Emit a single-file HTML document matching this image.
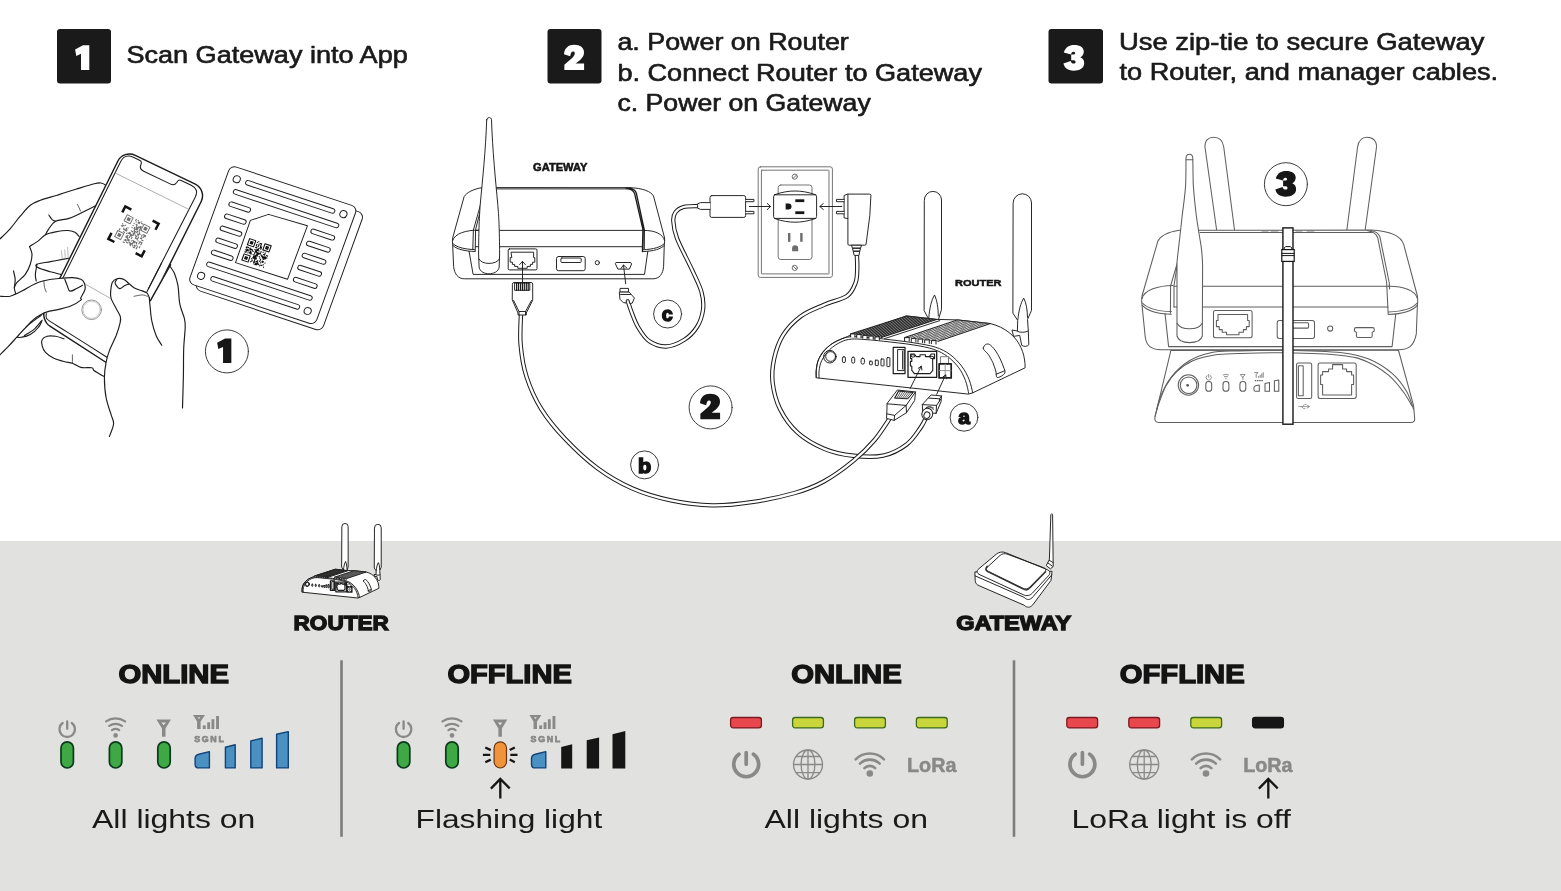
<!DOCTYPE html>
<html><head><meta charset="utf-8">
<style>
html,body{margin:0;padding:0;background:#fff;}
body{width:1561px;height:891px;overflow:hidden;font-family:"Liberation Sans",sans-serif;}
svg{display:block;position:absolute;left:0;top:0;}
text{font-family:"Liberation Sans",sans-serif;filter:grayscale(1);}
.h{font-size:24.3px;fill:#1a1a1a;stroke:#1a1a1a;stroke-width:.65;stroke-linejoin:round;}
.bk{font-weight:bold;fill:#141414;stroke:#141414;stroke-linejoin:miter;}
.bd{font-size:26.6px;fill:#1a1a1a;}
.ln{fill:none;stroke:#1c1c1c;stroke-width:.95;stroke-linecap:round;stroke-linejoin:round;}
.lw{fill:#fff;stroke:#1c1c1c;stroke-linecap:round;stroke-linejoin:round;}
.g{fill:none;stroke:#898989;}
#miniR *{vector-effect:non-scaling-stroke;}
</style></head><body>
<svg width="1561" height="891" viewBox="0 0 1561 891">
<rect x="0" y="0" width="1561" height="891" fill="#fff"/>
<rect x="0" y="541" width="1561" height="350" fill="#e1e1df"/>

<defs>
<path id="d1" d="M83,45.2 L89.3,45.2 L89.3,69.9 L81,69.9 L81,53.8 L76.3,55.9 L75.1,49.5 Z"/>
<path id="d2" d="M564.35,70.1 L564.35,64.8 L571,58.9 C573.5,56.7 574.8,55 574.8,53.2 C574.8,52 574,51.4 573,51.4 C571.5,51.4 570.6,53 570.2,56.2 L564,54.2 C564.5,48 568.5,44.8 574.3,44.8 C580.3,44.8 584,47.8 584,52.6 C584,57 581,59.5 575.7,63.6 L584.1,63.6 L584.1,70.1 Z"/>
<path id="d3" d="M1063.8,52.6 C1065.4,47.1 1069.3,44.9 1074,44.9 C1080.3,44.9 1083.8,47.5 1083.8,51.5 C1083.8,54.6 1082.2,56.2 1080.3,57.35 C1083,58.5 1084.2,60.5 1084.2,63.2 C1084.2,67.95 1079.5,70.7 1073.6,70.7 C1067.7,70.7 1064.6,67.95 1063.4,63.6 L1070.7,60.9 C1071.2,62.85 1072,63.6 1073.6,63.6 C1074.8,63.6 1075.6,62.85 1075.6,61.9 C1075.6,60.9 1074.8,60.25 1073.2,60.25 L1071.2,60.25 L1071.2,54.6 L1073.2,54.6 C1074.4,54.6 1075.2,54 1075.2,53.2 C1075.2,52.2 1074.4,51.7 1073.4,51.7 C1072,51.7 1071.5,52.6 1071,54.6 Z"/>
</defs>
<!-- HEADERS -->
<g id="headers">
<rect x="57" y="29" width="54" height="54.5" rx="3" fill="#1a1a1a"/>
<rect x="547.5" y="29" width="54" height="54.5" rx="3" fill="#1a1a1a"/>
<rect x="1048.5" y="29" width="54.5" height="54.5" rx="3" fill="#1a1a1a"/>
<text class="h" x="126.4" y="63" textLength="281.4" lengthAdjust="spacingAndGlyphs">Scan Gateway into App</text>
<text class="h" x="617.4" y="49.7" textLength="231.4" lengthAdjust="spacingAndGlyphs">a. Power on Router</text>
<text class="h" x="617.4" y="80.5" textLength="364.6" lengthAdjust="spacingAndGlyphs">b. Connect Router to Gateway</text>
<text class="h" x="617.4" y="111" textLength="253.4" lengthAdjust="spacingAndGlyphs">c. Power on Gateway</text>
<text class="h" x="1119" y="49.8" textLength="365.4" lengthAdjust="spacingAndGlyphs">Use zip-tie to secure Gateway</text>
<text class="h" x="1119.5" y="80.3" textLength="378.6" lengthAdjust="spacingAndGlyphs">to Router, and manager cables.</text>
<use href="#d1" fill="#fff"/><use href="#d2" fill="#fff"/><use href="#d3" fill="#fff"/>
</g>

<!--ILLUS1-->
<g id="illus1" class="ln" style="stroke-width:1.15">
<g transform="matrix(0.9611,0.3190,-0.3439,0.9500,230.64,165.19)" stroke-width=".95">
<rect class="lw" x="8.3" y="3.8" width="132" height="124" rx="6"/>
<rect class="lw" x="0" y="0" width="132" height="124" rx="6"/>
<circle cx="10.4" cy="11.3" r="3.5"/>
<circle cx="121.2" cy="10.8" r="3.5"/>
<circle cx="9.8" cy="113.2" r="3.5"/>
<circle cx="120.6" cy="113.0" r="3.5"/>
<rect x="19.7" y="8.9" width="92.6" height="4.6" rx="2.3"/>
<rect x="11.4" y="21.3" width="109.4" height="4.6" rx="2.3"/>
<rect x="11.0" y="97.7" width="109.5" height="4.6" rx="2.3"/>
<rect x="19.7" y="110.0" width="92.1" height="4.6" rx="2.3"/>
<rect x="11.4" y="34.2" width="22.2" height="4.6" rx="2.3"/>
<rect x="96.7" y="34.2" width="24.4" height="4.6" rx="2.3"/>
<rect x="11.4" y="46.9" width="22.2" height="4.6" rx="2.3"/>
<rect x="96.7" y="46.9" width="24.4" height="4.6" rx="2.3"/>
<rect x="11.4" y="59.6" width="22.2" height="4.6" rx="2.3"/>
<rect x="96.7" y="59.6" width="24.4" height="4.6" rx="2.3"/>
<rect x="11.4" y="72.3" width="22.2" height="4.6" rx="2.3"/>
<rect x="96.7" y="72.3" width="24.4" height="4.6" rx="2.3"/>
<rect x="11.4" y="85.0" width="22.2" height="4.6" rx="2.3"/>
<rect x="96.7" y="85.0" width="24.4" height="4.6" rx="2.3"/>
<path d="M36.9,45.7 L51.7,34.4 L91.7,33 L91.2,89.5 L37.3,90 Z"/>
<rect x="42.33" y="63.13" width="6.42" height="6.42" fill="none" stroke="#111" stroke-width="1.07"/><rect x="43.94" y="64.74" width="3.21" height="3.21" fill="#111" stroke="none"/>
<rect x="58.38" y="63.13" width="6.42" height="6.42" fill="none" stroke="#111" stroke-width="1.07"/><rect x="59.99" y="64.74" width="3.21" height="3.21" fill="#111" stroke="none"/>
<rect x="42.33" y="79.19" width="6.42" height="6.42" fill="none" stroke="#111" stroke-width="1.07"/><rect x="43.94" y="80.79" width="3.21" height="3.21" fill="#111" stroke="none"/>
<path d="M41.8,71.2h1.1v1.1h-1.1zM41.8,72.2h1.1v1.1h-1.1zM41.8,74.4h1.1v1.1h-1.1zM41.8,76.5h1.1v1.1h-1.1zM42.9,71.2h1.1v1.1h-1.1zM42.9,73.3h1.1v1.1h-1.1zM42.9,74.4h1.1v1.1h-1.1zM42.9,75.4h1.1v1.1h-1.1zM42.9,76.5h1.1v1.1h-1.1zM43.9,71.2h1.1v1.1h-1.1zM43.9,73.3h1.1v1.1h-1.1zM43.9,74.4h1.1v1.1h-1.1zM45.0,72.2h1.1v1.1h-1.1zM45.0,74.4h1.1v1.1h-1.1zM45.0,76.5h1.1v1.1h-1.1zM46.1,71.2h1.1v1.1h-1.1zM46.1,72.2h1.1v1.1h-1.1zM46.1,73.3h1.1v1.1h-1.1zM46.1,75.4h1.1v1.1h-1.1zM47.1,72.2h1.1v1.1h-1.1zM47.1,74.4h1.1v1.1h-1.1zM47.1,75.4h1.1v1.1h-1.1zM47.1,76.5h1.1v1.1h-1.1zM48.2,72.2h1.1v1.1h-1.1zM48.2,73.3h1.1v1.1h-1.1zM48.2,75.4h1.1v1.1h-1.1zM48.2,76.5h1.1v1.1h-1.1zM49.3,73.3h1.1v1.1h-1.1zM50.4,63.7h1.1v1.1h-1.1zM50.4,65.8h1.1v1.1h-1.1zM50.4,66.9h1.1v1.1h-1.1zM50.4,69.0h1.1v1.1h-1.1zM50.4,71.2h1.1v1.1h-1.1zM50.4,76.5h1.1v1.1h-1.1zM50.4,80.8h1.1v1.1h-1.1zM50.4,84.0h1.1v1.1h-1.1zM51.4,62.6h1.1v1.1h-1.1zM51.4,68.0h1.1v1.1h-1.1zM51.4,69.0h1.1v1.1h-1.1zM51.4,71.2h1.1v1.1h-1.1zM51.4,72.2h1.1v1.1h-1.1zM51.4,73.3h1.1v1.1h-1.1zM51.4,74.4h1.1v1.1h-1.1zM51.4,75.4h1.1v1.1h-1.1zM51.4,77.6h1.1v1.1h-1.1zM51.4,78.7h1.1v1.1h-1.1zM51.4,79.7h1.1v1.1h-1.1zM51.4,81.9h1.1v1.1h-1.1zM51.4,82.9h1.1v1.1h-1.1zM52.5,64.7h1.1v1.1h-1.1zM52.5,65.8h1.1v1.1h-1.1zM52.5,66.9h1.1v1.1h-1.1zM52.5,70.1h1.1v1.1h-1.1zM52.5,71.2h1.1v1.1h-1.1zM52.5,72.2h1.1v1.1h-1.1zM52.5,73.3h1.1v1.1h-1.1zM52.5,76.5h1.1v1.1h-1.1zM52.5,77.6h1.1v1.1h-1.1zM52.5,78.7h1.1v1.1h-1.1zM52.5,79.7h1.1v1.1h-1.1zM53.6,63.7h1.1v1.1h-1.1zM53.6,69.0h1.1v1.1h-1.1zM53.6,70.1h1.1v1.1h-1.1zM53.6,71.2h1.1v1.1h-1.1zM53.6,73.3h1.1v1.1h-1.1zM53.6,74.4h1.1v1.1h-1.1zM53.6,75.4h1.1v1.1h-1.1zM53.6,76.5h1.1v1.1h-1.1zM53.6,77.6h1.1v1.1h-1.1zM53.6,78.7h1.1v1.1h-1.1zM53.6,79.7h1.1v1.1h-1.1zM53.6,80.8h1.1v1.1h-1.1zM53.6,81.9h1.1v1.1h-1.1zM53.6,82.9h1.1v1.1h-1.1zM53.6,84.0h1.1v1.1h-1.1zM54.6,63.7h1.1v1.1h-1.1zM54.6,64.7h1.1v1.1h-1.1zM54.6,65.8h1.1v1.1h-1.1zM54.6,66.9h1.1v1.1h-1.1zM54.6,68.0h1.1v1.1h-1.1zM54.6,71.2h1.1v1.1h-1.1zM54.6,73.3h1.1v1.1h-1.1zM54.6,74.4h1.1v1.1h-1.1zM54.6,75.4h1.1v1.1h-1.1zM54.6,76.5h1.1v1.1h-1.1zM54.6,78.7h1.1v1.1h-1.1zM54.6,79.7h1.1v1.1h-1.1zM54.6,82.9h1.1v1.1h-1.1zM54.6,85.1h1.1v1.1h-1.1zM55.7,66.9h1.1v1.1h-1.1zM55.7,68.0h1.1v1.1h-1.1zM55.7,69.0h1.1v1.1h-1.1zM55.7,73.3h1.1v1.1h-1.1zM55.7,74.4h1.1v1.1h-1.1zM55.7,81.9h1.1v1.1h-1.1zM55.7,84.0h1.1v1.1h-1.1zM55.7,85.1h1.1v1.1h-1.1zM56.8,71.2h1.1v1.1h-1.1zM56.8,72.2h1.1v1.1h-1.1zM56.8,73.3h1.1v1.1h-1.1zM56.8,76.5h1.1v1.1h-1.1zM56.8,80.8h1.1v1.1h-1.1zM56.8,81.9h1.1v1.1h-1.1zM56.8,82.9h1.1v1.1h-1.1zM56.8,84.0h1.1v1.1h-1.1zM56.8,85.1h1.1v1.1h-1.1zM57.8,74.4h1.1v1.1h-1.1zM57.8,77.6h1.1v1.1h-1.1zM57.8,82.9h1.1v1.1h-1.1zM57.8,84.0h1.1v1.1h-1.1zM58.9,71.2h1.1v1.1h-1.1zM58.9,74.4h1.1v1.1h-1.1zM58.9,75.4h1.1v1.1h-1.1zM58.9,78.7h1.1v1.1h-1.1zM58.9,79.7h1.1v1.1h-1.1zM58.9,80.8h1.1v1.1h-1.1zM58.9,84.0h1.1v1.1h-1.1zM60.0,73.3h1.1v1.1h-1.1zM60.0,75.4h1.1v1.1h-1.1zM60.0,76.5h1.1v1.1h-1.1zM60.0,81.9h1.1v1.1h-1.1zM60.0,85.1h1.1v1.1h-1.1zM61.1,71.2h1.1v1.1h-1.1zM61.1,72.2h1.1v1.1h-1.1zM61.1,73.3h1.1v1.1h-1.1zM61.1,75.4h1.1v1.1h-1.1zM61.1,76.5h1.1v1.1h-1.1zM61.1,77.6h1.1v1.1h-1.1zM61.1,79.7h1.1v1.1h-1.1zM61.1,80.8h1.1v1.1h-1.1zM61.1,84.0h1.1v1.1h-1.1zM62.1,74.4h1.1v1.1h-1.1zM62.1,75.4h1.1v1.1h-1.1zM62.1,76.5h1.1v1.1h-1.1zM62.1,77.6h1.1v1.1h-1.1zM62.1,79.7h1.1v1.1h-1.1zM62.1,80.8h1.1v1.1h-1.1zM62.1,84.0h1.1v1.1h-1.1zM63.2,73.3h1.1v1.1h-1.1zM63.2,75.4h1.1v1.1h-1.1zM63.2,76.5h1.1v1.1h-1.1zM63.2,82.9h1.1v1.1h-1.1zM64.3,73.3h1.1v1.1h-1.1zM64.3,75.4h1.1v1.1h-1.1zM64.3,80.8h1.1v1.1h-1.1zM64.3,85.1h1.1v1.1h-1.1z" fill="#111" stroke="none"/>
</g>
<path d="M0.0,238.9 C1.7,237.2 6.7,232.6 10.1,228.8 C13.5,225.0 16.8,220.1 20.2,216.2 C23.6,212.3 26.9,207.9 30.3,205.3 C33.7,202.6 35.9,201.9 40.4,200.2 C44.9,198.5 51.3,197.0 57.2,195.2 C63.1,193.3 69.6,191.2 75.8,189.3 C81.9,187.4 90.1,184.7 94.3,183.7 C98.5,182.7 99.1,182.7 101.0,183.0 C102.9,183.3 104.6,184.2 105.7,185.4 C106.8,186.6 107.4,189.3 107.7,190.1"/>
<path d="M96.8,205.3 C94.4,206.4 87.1,210.1 82.5,212.3 C77.9,214.5 73.5,216.9 69.0,218.4 C64.5,219.9 58.9,219.5 55.6,221.2 C52.2,223.0 50.5,226.6 48.8,228.8 C47.1,231.1 46.0,233.7 45.5,234.7"/>
<path d="M29.5,246.5 C31.0,245.5 36.1,242.6 38.7,240.6 C41.4,238.6 42.6,236.2 45.5,234.7 C48.3,233.3 51.9,232.6 55.6,231.9 C59.2,231.2 64.1,230.4 67.3,230.5 C70.6,230.6 73.0,231.2 74.9,232.2 C76.9,233.2 78.4,235.7 79.1,236.4"/>
<path d="M48.8,215.0 C49.4,215.8 51.1,218.5 52.2,219.6 C53.3,220.6 55.0,221.0 55.6,221.2"/>
<path d="M77.4,204.4 C77.7,205.0 78.6,206.7 79.1,207.8 C79.6,208.9 80.2,210.6 80.5,211.1" stroke-width=".7"/>
<path d="M29.5,246.5 C29.9,247.8 31.8,251.1 32.0,254.1 C32.1,257.0 31.4,260.8 30.3,264.2 C29.2,267.5 27.5,271.2 25.3,274.3 C23.0,277.4 18.7,280.4 16.8,282.7 C15.0,284.9 14.5,285.8 14.3,287.7 C14.2,289.7 15.7,293.4 16.0,294.5"/>
<path d="M13.5,270.9 C13.7,272.3 15.0,276.5 15.2,279.3 C15.3,282.1 14.5,286.3 14.3,287.7"/>
<path d="M69.0,258.3 C68.2,258.4 67.1,258.6 64.0,259.1 C60.9,259.7 55.0,260.8 50.5,261.6 C46.0,262.5 39.1,263.2 37.0,264.2 C34.9,265.2 35.6,266.3 37.9,267.5 C40.1,268.8 46.6,270.6 50.5,271.8 C54.4,272.9 59.6,274.1 61.4,274.6"/>
<path d="M37.0,264.2 C36.8,265.9 35.5,271.5 35.4,274.3 C35.2,277.1 36.1,279.9 36.2,281.0"/>
<path d="M61.4,250.7 L62.3,259.1 M64.8,249.9 L65.3,259.1 M67.7,247.3 L68.2,258.3" stroke-width=".6" stroke="#888"/>
<path class="lw" d="M117.8,161.2 C121.0,154.8 128.9,152.1 135.3,155.3 L195.3,184.2 C201.7,187.4 204.4,195.1 201.2,201.5 L122.9,357.9 C119.7,364.3 112.2,366.3 106.2,362.5 L50.3,326.4 C44.3,322.6 42.0,314.2 45.2,307.8 Z" style="stroke-width:1.45"/>
<path d="M58.2,287.6 L120.6,161.7 Q124.8,153.2 133.4,157.3 L140.0,160.5 C142.5,161.7 141.3,163.6 140.6,165.5 C139.6,168.3 140.7,169.8 143.7,171.2 L170.1,183.9 C173.0,185.4 174.8,185.3 176.5,182.8 C177.5,181.1 178.2,179.0 180.7,180.2 L191.2,185.3 Q199.3,189.2 195.2,197.2 L148.3,288.9" style="stroke-width:1.05"/>
<path d="M115.8,173.3 L189.5,209.7 M85.5,284.2 L110,298.2" stroke="#9a9a9a" stroke-width=".8"/>
<path d="M46.3,313.6 C46.3,314.3 45.7,316.5 46.3,317.8 C46.9,319.0 46.2,318.8 49.7,321.1 C53.2,323.5 57.8,326.1 67.3,332.1 C76.9,338.1 100.3,353.1 106.9,357.3" stroke-width="1.05"/>
<circle cx="91.6" cy="309.8" r="9.8" stroke="#8a8a8a" stroke-width=".9"/><circle cx="91.6" cy="309.8" r="8.6" stroke="#b0b0b0" stroke-width=".7"/>
<g transform="translate(133.5,231.35) rotate(27.6)">
<path d="M-18.75,-11.6 V-18.3 H-12 M12,-18.3 H18.75 V-11.6 M18.75,11.6 V18.3 H12 M-12,18.3 H-18.75 V11.6" stroke="#111" stroke-width="2.5" stroke-linecap="butt" stroke-linejoin="miter"/>
<rect x="-13.24" y="-11.84" width="6.78" height="6.78" fill="none" stroke="#6e6e6e" stroke-width="0.96"/><rect x="-11.54" y="-10.14" width="3.39" height="3.39" fill="#6e6e6e" stroke="none"/>
<rect x="6.01" y="-11.20" width="6.78" height="6.78" fill="none" stroke="#6e6e6e" stroke-width="0.96"/><rect x="7.70" y="-9.50" width="3.39" height="3.39" fill="#6e6e6e" stroke="none"/>
<rect x="-14.29" y="6.51" width="6.78" height="6.78" fill="none" stroke="#6e6e6e" stroke-width="0.96"/><rect x="-12.60" y="8.20" width="3.39" height="3.39" fill="#6e6e6e" stroke="none"/>
<path d="M-13.80,-2.23h1.13v1.13h-1.13zM-13.80,0.03h1.13v1.13h-1.13zM-13.80,3.42h1.13v1.13h-1.13zM-13.80,4.55h1.13v1.13h-1.13zM-12.67,-1.10h1.13v1.13h-1.13zM-12.67,0.03h1.13v1.13h-1.13zM-11.54,-1.10h1.13v1.13h-1.13zM-10.41,-2.23h1.13v1.13h-1.13zM-10.41,1.16h1.13v1.13h-1.13zM-10.41,2.29h1.13v1.13h-1.13zM-9.28,2.29h1.13v1.13h-1.13zM-9.28,4.55h1.13v1.13h-1.13zM-8.15,0.03h1.13v1.13h-1.13zM-8.15,1.16h1.13v1.13h-1.13zM-8.15,2.29h1.13v1.13h-1.13zM-8.15,4.55h1.13v1.13h-1.13zM-7.02,-1.10h1.13v1.13h-1.13zM-7.02,1.16h1.13v1.13h-1.13zM-7.02,2.29h1.13v1.13h-1.13zM-5.89,4.55h1.13v1.13h-1.13zM-4.76,3.42h1.13v1.13h-1.13zM-4.76,6.81h1.13v1.13h-1.13zM-4.76,7.94h1.13v1.13h-1.13zM-4.76,11.33h1.13v1.13h-1.13zM-4.76,13.59h1.13v1.13h-1.13zM-3.63,-12.40h1.13v1.13h-1.13zM-3.63,-11.27h1.13v1.13h-1.13zM-3.63,-7.88h1.13v1.13h-1.13zM-3.63,-5.62h1.13v1.13h-1.13zM-3.63,-3.36h1.13v1.13h-1.13zM-3.63,2.29h1.13v1.13h-1.13zM-3.63,3.42h1.13v1.13h-1.13zM-3.63,5.68h1.13v1.13h-1.13zM-3.63,6.81h1.13v1.13h-1.13zM-3.63,7.94h1.13v1.13h-1.13zM-3.63,10.20h1.13v1.13h-1.13zM-3.63,11.33h1.13v1.13h-1.13zM-3.63,13.59h1.13v1.13h-1.13zM-2.50,-10.14h1.13v1.13h-1.13zM-2.50,0.03h1.13v1.13h-1.13zM-2.50,2.29h1.13v1.13h-1.13zM-2.50,3.42h1.13v1.13h-1.13zM-2.50,7.94h1.13v1.13h-1.13zM-2.50,9.07h1.13v1.13h-1.13zM-2.50,11.33h1.13v1.13h-1.13zM-1.37,-12.40h1.13v1.13h-1.13zM-1.37,-7.88h1.13v1.13h-1.13zM-1.37,-4.49h1.13v1.13h-1.13zM-1.37,-3.36h1.13v1.13h-1.13zM-1.37,0.03h1.13v1.13h-1.13zM-1.37,3.42h1.13v1.13h-1.13zM-1.37,4.55h1.13v1.13h-1.13zM-1.37,5.68h1.13v1.13h-1.13zM-1.37,6.81h1.13v1.13h-1.13zM-1.37,9.07h1.13v1.13h-1.13zM-1.37,10.20h1.13v1.13h-1.13zM-1.37,12.46h1.13v1.13h-1.13zM-0.24,-11.27h1.13v1.13h-1.13zM-0.24,-10.14h1.13v1.13h-1.13zM-0.24,-7.88h1.13v1.13h-1.13zM-0.24,-6.75h1.13v1.13h-1.13zM-0.24,-5.62h1.13v1.13h-1.13zM-0.24,-3.36h1.13v1.13h-1.13zM-0.24,-2.23h1.13v1.13h-1.13zM-0.24,-1.10h1.13v1.13h-1.13zM-0.24,1.16h1.13v1.13h-1.13zM-0.24,3.42h1.13v1.13h-1.13zM-0.24,4.55h1.13v1.13h-1.13zM-0.24,9.07h1.13v1.13h-1.13zM-0.24,10.20h1.13v1.13h-1.13zM-0.24,12.46h1.13v1.13h-1.13zM0.89,-11.27h1.13v1.13h-1.13zM0.89,-10.14h1.13v1.13h-1.13zM0.89,-5.62h1.13v1.13h-1.13zM0.89,-4.49h1.13v1.13h-1.13zM0.89,-3.36h1.13v1.13h-1.13zM0.89,-1.10h1.13v1.13h-1.13zM0.89,0.03h1.13v1.13h-1.13zM0.89,1.16h1.13v1.13h-1.13zM0.89,2.29h1.13v1.13h-1.13zM0.89,3.42h1.13v1.13h-1.13zM0.89,5.68h1.13v1.13h-1.13zM0.89,6.81h1.13v1.13h-1.13zM0.89,11.33h1.13v1.13h-1.13zM2.02,-12.40h1.13v1.13h-1.13zM2.02,-6.75h1.13v1.13h-1.13zM2.02,-5.62h1.13v1.13h-1.13zM2.02,-4.49h1.13v1.13h-1.13zM2.02,-3.36h1.13v1.13h-1.13zM2.02,-1.10h1.13v1.13h-1.13zM2.02,1.16h1.13v1.13h-1.13zM2.02,9.07h1.13v1.13h-1.13zM2.02,11.33h1.13v1.13h-1.13zM2.02,12.46h1.13v1.13h-1.13zM3.15,-11.27h1.13v1.13h-1.13zM3.15,-7.88h1.13v1.13h-1.13zM3.15,-6.75h1.13v1.13h-1.13zM3.15,-2.23h1.13v1.13h-1.13zM3.15,-1.10h1.13v1.13h-1.13zM3.15,2.29h1.13v1.13h-1.13zM3.15,7.94h1.13v1.13h-1.13zM3.15,11.33h1.13v1.13h-1.13zM3.15,12.46h1.13v1.13h-1.13zM3.15,13.59h1.13v1.13h-1.13zM4.28,-11.27h1.13v1.13h-1.13zM4.28,-7.88h1.13v1.13h-1.13zM4.28,-6.75h1.13v1.13h-1.13zM4.28,-5.62h1.13v1.13h-1.13zM4.28,-4.49h1.13v1.13h-1.13zM4.28,-3.36h1.13v1.13h-1.13zM4.28,0.03h1.13v1.13h-1.13zM4.28,2.29h1.13v1.13h-1.13zM4.28,3.42h1.13v1.13h-1.13zM4.28,4.55h1.13v1.13h-1.13zM4.28,7.94h1.13v1.13h-1.13zM4.28,9.07h1.13v1.13h-1.13zM4.28,10.20h1.13v1.13h-1.13zM4.28,11.33h1.13v1.13h-1.13zM5.41,-2.23h1.13v1.13h-1.13zM5.41,-1.10h1.13v1.13h-1.13zM5.41,0.03h1.13v1.13h-1.13zM5.41,1.16h1.13v1.13h-1.13zM5.41,4.55h1.13v1.13h-1.13zM5.41,7.94h1.13v1.13h-1.13zM5.41,9.07h1.13v1.13h-1.13zM5.41,12.46h1.13v1.13h-1.13zM6.54,-1.10h1.13v1.13h-1.13zM6.54,2.29h1.13v1.13h-1.13zM6.54,3.42h1.13v1.13h-1.13zM6.54,4.55h1.13v1.13h-1.13zM6.54,7.94h1.13v1.13h-1.13zM6.54,11.33h1.13v1.13h-1.13zM6.54,13.59h1.13v1.13h-1.13zM7.67,5.68h1.13v1.13h-1.13zM7.67,7.94h1.13v1.13h-1.13zM7.67,9.07h1.13v1.13h-1.13zM7.67,11.33h1.13v1.13h-1.13zM7.67,12.46h1.13v1.13h-1.13zM7.67,13.59h1.13v1.13h-1.13zM8.80,-1.10h1.13v1.13h-1.13zM8.80,0.03h1.13v1.13h-1.13zM8.80,2.29h1.13v1.13h-1.13zM8.80,10.20h1.13v1.13h-1.13zM9.93,-2.23h1.13v1.13h-1.13zM9.93,1.16h1.13v1.13h-1.13zM9.93,2.29h1.13v1.13h-1.13zM9.93,5.68h1.13v1.13h-1.13zM9.93,6.81h1.13v1.13h-1.13zM9.93,7.94h1.13v1.13h-1.13zM9.93,11.33h1.13v1.13h-1.13zM9.93,12.46h1.13v1.13h-1.13zM9.93,13.59h1.13v1.13h-1.13zM11.06,-2.23h1.13v1.13h-1.13zM11.06,-1.10h1.13v1.13h-1.13zM11.06,0.03h1.13v1.13h-1.13zM11.06,3.42h1.13v1.13h-1.13zM11.06,5.68h1.13v1.13h-1.13zM12.19,-2.23h1.13v1.13h-1.13zM12.19,-1.10h1.13v1.13h-1.13zM12.19,3.42h1.13v1.13h-1.13zM12.19,5.68h1.13v1.13h-1.13zM12.19,6.81h1.13v1.13h-1.13zM12.19,7.94h1.13v1.13h-1.13zM12.19,10.20h1.13v1.13h-1.13zM12.19,11.33h1.13v1.13h-1.13z" fill="#6e6e6e" stroke="none"/>
</g>
<path class="lw" d="M64.0,338.8 C62.6,338.4 58.4,336.7 55.6,336.3 C52.7,335.9 49.4,335.7 47.1,336.3 C44.9,336.9 42.9,338.1 42.1,339.7 C41.2,341.2 41.5,343.5 42.1,345.6 C42.6,347.7 43.5,350.2 45.5,352.3 C47.4,354.4 50.8,356.6 53.9,358.2 C57.0,359.7 60.9,360.7 64.0,361.5 C67.1,362.4 69.6,362.3 72.4,363.2 C75.2,364.2 77.6,366.7 80.8,367.4 C84.0,368.2 89.5,367.2 91.8,367.8 C94.0,368.3 92.3,369.4 94.3,370.8 C96.2,372.2 102.0,375.3 103.5,376.2"/>
<path d="M72.4,354.8 C72.4,356.2 72.4,361.8 72.4,363.2" stroke-width=".7"/>
<path class="lw" d="M41.2,315.3 C38.9,317.1 30.9,322.7 26.9,326.2 C23.0,329.7 18.5,334.5 17.7,336.3 C16.8,338.1 19.8,337.4 21.9,337.1 C24.0,336.9 27.5,336.3 30.3,334.6 C33.1,332.9 36.8,329.4 38.7,327.0 C40.7,324.7 41.5,321.4 42.1,320.3"/>
<path d="M24.4,335.5 C26.0,334.5 30.9,331.9 33.7,329.6 C36.5,327.2 40.0,322.5 41.2,321.1"/>
<path class="lw" d="M0.0,296.2 C1.7,296.2 6.5,297.0 10.1,296.2 C13.7,295.3 18.0,293.1 21.9,291.1 C25.8,289.1 30.0,286.1 33.7,284.4 C37.3,282.6 39.6,281.7 43.8,280.7 C48.0,279.7 54.2,279.0 58.9,278.5 C63.7,278.0 68.7,277.5 72.4,277.6 C76.0,277.8 78.8,278.5 80.8,279.3 C82.8,280.2 83.5,281.0 84.2,282.7 C84.9,284.4 85.6,286.9 85.0,289.4 C84.5,292.0 81.5,296.1 80.8,297.8 C80.1,299.6 82.5,298.7 80.8,300.1 C79.1,301.5 74.4,304.5 70.7,306.0 C67.1,307.5 62.9,308.4 58.9,309.4 C55.0,310.3 50.1,311.0 47.1,311.9 C44.2,312.7 43.5,313.1 41.2,314.4 C39.0,315.7 36.3,317.2 33.7,319.5 C31.0,321.7 28.1,324.9 25.3,327.9 C22.4,330.8 19.6,334.1 16.8,337.1 C14.0,340.2 11.2,343.5 8.4,346.4 C5.6,349.3 1.4,353.4 0.0,354.8"/>
<path d="M64.8,279.3 C65.2,280.4 66.5,283.8 67.3,285.7 C68.2,287.7 68.3,290.6 69.9,291.1 C71.4,291.6 74.5,289.6 76.6,288.6 C78.7,287.6 81.5,285.8 82.5,285.2"/>
<path d="M43.8,281.0 C43.9,282.1 44.2,285.9 44.6,287.7 C45.0,289.6 46.0,291.3 46.3,292.0" stroke-width=".7"/>
<path d="M109.4,436.5 C109.8,435.3 111.3,432.0 112.0,429.7 C112.7,427.5 113.8,425.5 113.6,423.0 C113.5,420.5 112.4,418.8 111.1,414.6 C109.8,410.4 107.2,403.9 106.1,397.7 C104.9,391.6 104.4,383.4 104.4,377.5 C104.4,371.6 105.2,366.9 106.1,362.4 C106.9,357.9 107.7,355.1 109.4,350.6 C111.1,346.1 114.4,339.9 116.2,335.5 C117.9,331.0 119.2,326.8 119.9,323.7 C120.6,320.6 121.0,319.5 120.4,316.9 C119.8,314.4 117.7,311.6 116.2,308.5 C114.6,305.4 112.0,301.3 111.1,298.4 C110.2,295.5 110.4,294.0 110.7,291.3 C110.9,288.6 111.4,284.4 112.4,282.3 C113.5,280.2 115.1,279.3 116.9,278.7 C118.7,278.2 121.3,278.3 123.2,279.1 C125.2,279.8 126.8,281.8 128.6,283.2 C130.4,284.7 131.7,286.4 134.0,287.7 C136.2,289.0 139.9,290.0 142.1,290.9 C144.3,291.8 145.9,292.0 147.1,293.1 C148.3,294.2 148.9,296.8 149.3,297.6 L169.9,266.2 L169.9,266.2 C170.7,267.4 173.0,270.1 174.4,273.3 C175.7,276.6 177.1,280.8 178.0,285.9 C178.9,291.0 178.7,298.5 179.8,303.9 C180.8,309.3 183.4,314.3 184.3,318.2 C185.2,322.1 185.3,322.1 185.2,327.2 C185.1,332.3 184.0,340.7 183.7,348.8 C183.4,356.8 183.6,365.8 183.4,375.7 C183.2,385.6 182.6,402.6 182.5,408.0 Z" fill="#fff" stroke="none"/>
<path d="M170.6,264.6 L150.4,300.6" style="stroke-width:1.45"/>
<path d="M161.6,263 L146.9,291.8" style="stroke-width:1.05"/>
<path d="M109.4,436.5 C109.8,435.3 111.3,432.0 112.0,429.7 C112.7,427.5 113.8,425.5 113.6,423.0 C113.5,420.5 112.4,418.8 111.1,414.6 C109.8,410.4 107.2,403.9 106.1,397.7 C104.9,391.6 104.4,383.4 104.4,377.5 C104.4,371.6 105.2,366.9 106.1,362.4 C106.9,357.9 107.7,355.1 109.4,350.6 C111.1,346.1 114.4,339.9 116.2,335.5 C117.9,331.0 119.2,326.8 119.9,323.7 C120.6,320.6 121.0,319.5 120.4,316.9 C119.8,314.4 117.7,311.6 116.2,308.5 C114.6,305.4 112.0,301.3 111.1,298.4 C110.2,295.5 110.4,294.0 110.7,291.3 C110.9,288.6 111.4,284.4 112.4,282.3 C113.5,280.2 115.1,279.3 116.9,278.7 C118.7,278.2 121.3,278.3 123.2,279.1 C125.2,279.8 126.8,281.8 128.6,283.2 C130.4,284.7 131.7,286.4 134.0,287.7 C136.2,289.0 139.9,290.0 142.1,290.9 C144.3,291.8 145.9,292.0 147.1,293.1 C148.3,294.2 148.9,296.8 149.3,297.6"/>
<path d="M169.9,266.2 C170.7,267.4 173.0,270.1 174.4,273.3 C175.7,276.6 177.1,280.8 178.0,285.9 C178.9,291.0 178.7,298.5 179.8,303.9 C180.8,309.3 183.4,314.3 184.3,318.2 C185.2,322.1 185.3,322.1 185.2,327.2 C185.1,332.3 184.0,340.7 183.7,348.8 C183.4,356.8 183.6,365.8 183.4,375.7 C183.2,385.6 182.6,402.6 182.5,408.0"/>
<path d="M116.9,279.6 C116.6,280.2 114.7,281.7 115.1,283.2 C115.6,284.7 118.1,288.2 119.6,288.6 C121.1,289.1 122.6,286.7 124.1,285.9 C125.6,285.2 127.9,284.4 128.6,284.1"/>
<path d="M134.0,296.3 C135.3,296.1 139.8,294.9 142.1,294.9 C144.3,294.9 146.6,296.1 147.5,296.3" stroke-width=".7"/>
<path d="M149.3,297.6 C149.4,299.2 149.7,303.4 150.2,307.5 C150.6,311.5 150.9,317.0 152.0,321.8 C153.0,326.6 154.8,332.3 156.4,336.2 C158.1,340.1 160.9,343.7 161.8,345.2"/>
<circle cx="226.9" cy="351.4" r="21.5" fill="#fff" stroke="#333" stroke-width=".95"/>
<use href="#d1" transform="translate(142.05,293.2)" fill="#161616" stroke="none"/>
</g>
<!--ENDILLUS1-->
<!--ILLUS2-->
<g id="illus2" class="ln">
<path d="M698.5,206.0 C696.0,206.2 687.3,206.0 683.5,207.0 C679.7,208.0 677.2,209.9 675.5,212.2 C673.8,214.5 673.0,216.7 673.3,221.0 C673.5,225.3 673.9,230.1 677.0,238.3 C680.1,246.5 688.1,261.2 692.2,270.2 C696.3,279.1 699.7,285.4 701.5,292.0 C703.3,298.6 703.8,304.2 703.0,310.0 C702.2,315.8 700.2,322.0 697.0,327.0 C693.8,332.0 689.2,336.8 684.0,340.0 C678.8,343.2 671.8,346.3 666.0,346.5 C660.2,346.7 653.7,344.2 649.0,341.0 C644.3,337.8 640.9,331.8 638.0,327.0 C635.1,322.2 633.2,316.3 631.5,312.0 C629.8,307.7 628.4,302.8 627.8,301.0" fill="none" stroke="#1a1a1a" stroke-width="4.30" stroke-linecap="butt"/>
<path d="M698.5,206.0 C696.0,206.2 687.3,206.0 683.5,207.0 C679.7,208.0 677.2,209.9 675.5,212.2 C673.8,214.5 673.0,216.7 673.3,221.0 C673.5,225.3 673.9,230.1 677.0,238.3 C680.1,246.5 688.1,261.2 692.2,270.2 C696.3,279.1 699.7,285.4 701.5,292.0 C703.3,298.6 703.8,304.2 703.0,310.0 C702.2,315.8 700.2,322.0 697.0,327.0 C693.8,332.0 689.2,336.8 684.0,340.0 C678.8,343.2 671.8,346.3 666.0,346.5 C660.2,346.7 653.7,344.2 649.0,341.0 C644.3,337.8 640.9,331.8 638.0,327.0 C635.1,322.2 633.2,316.3 631.5,312.0 C629.8,307.7 628.4,302.8 627.8,301.0" fill="none" stroke="#fff" stroke-width="2.30" stroke-linecap="butt"/>

<path d="M856.9,255.5 C857.0,257.9 857.4,265.4 857.2,270.0 C857.0,274.6 857.2,278.7 855.5,283.0 C853.8,287.3 852.2,292.4 847.0,296.0 C841.8,299.6 831.9,301.4 824.2,304.8 C816.5,308.2 807.5,311.3 800.6,316.4 C793.7,321.5 787.3,328.3 782.9,335.4 C778.5,342.5 775.8,351.0 774.1,358.9 C772.4,366.8 771.6,374.1 772.6,382.5 C773.6,390.9 775.8,400.6 780.0,409.0 C784.2,417.4 790.2,426.0 797.6,432.6 C805.0,439.2 814.9,444.9 824.2,448.8 C833.5,452.7 843.8,454.7 853.6,455.8 C863.4,456.9 874.2,457.5 883.1,455.6 C892.0,453.7 900.5,449.1 906.7,444.4 C913.0,439.7 917.3,432.2 920.6,427.6 C923.9,423.0 925.6,418.4 926.6,416.5" fill="none" stroke="#1a1a1a" stroke-width="4.40" stroke-linecap="butt"/>
<path d="M856.9,255.5 C857.0,257.9 857.4,265.4 857.2,270.0 C857.0,274.6 857.2,278.7 855.5,283.0 C853.8,287.3 852.2,292.4 847.0,296.0 C841.8,299.6 831.9,301.4 824.2,304.8 C816.5,308.2 807.5,311.3 800.6,316.4 C793.7,321.5 787.3,328.3 782.9,335.4 C778.5,342.5 775.8,351.0 774.1,358.9 C772.4,366.8 771.6,374.1 772.6,382.5 C773.6,390.9 775.8,400.6 780.0,409.0 C784.2,417.4 790.2,426.0 797.6,432.6 C805.0,439.2 814.9,444.9 824.2,448.8 C833.5,452.7 843.8,454.7 853.6,455.8 C863.4,456.9 874.2,457.5 883.1,455.6 C892.0,453.7 900.5,449.1 906.7,444.4 C913.0,439.7 917.3,432.2 920.6,427.6 C923.9,423.0 925.6,418.4 926.6,416.5" fill="none" stroke="#fff" stroke-width="2.40" stroke-linecap="butt"/>

<path d="M521.0,313.5 C520.9,318.6 519.7,333.7 520.6,344.2 C521.5,354.7 523.0,365.8 526.5,376.6 C530.0,387.4 534.9,398.7 541.3,409.0 C547.7,419.3 555.5,428.7 564.8,438.5 C574.1,448.3 585.9,459.6 597.2,468.0 C608.5,476.4 620.3,483.2 632.6,488.6 C644.9,494.0 657.6,497.6 670.9,500.4 C684.2,503.2 698.5,505.1 712.2,505.4 C726.0,505.6 739.6,504.0 753.4,501.9 C767.1,499.8 782.9,496.4 794.7,493.0 C806.5,489.6 814.4,486.6 824.2,481.2 C834.0,475.8 845.2,467.5 853.6,460.6 C862.0,453.7 868.5,447.2 874.6,440.0 C880.7,432.8 887.7,421.3 890.3,417.6" fill="none" stroke="#1a1a1a" stroke-width="4.40" stroke-linecap="butt"/>
<path d="M521.0,313.5 C520.9,318.6 519.7,333.7 520.6,344.2 C521.5,354.7 523.0,365.8 526.5,376.6 C530.0,387.4 534.9,398.7 541.3,409.0 C547.7,419.3 555.5,428.7 564.8,438.5 C574.1,448.3 585.9,459.6 597.2,468.0 C608.5,476.4 620.3,483.2 632.6,488.6 C644.9,494.0 657.6,497.6 670.9,500.4 C684.2,503.2 698.5,505.1 712.2,505.4 C726.0,505.6 739.6,504.0 753.4,501.9 C767.1,499.8 782.9,496.4 794.7,493.0 C806.5,489.6 814.4,486.6 824.2,481.2 C834.0,475.8 845.2,467.5 853.6,460.6 C862.0,453.7 868.5,447.2 874.6,440.0 C880.7,432.8 887.7,421.3 890.3,417.6" fill="none" stroke="#fff" stroke-width="2.40" stroke-linecap="butt"/>

<path class="lw" d="M482,187.65 C473.4,189 466.6,192.5 464.1,196.7 L452.65,238 C452.3,240 452.4,242.5 452.65,244.2 L453.6,266.4 C454.4,274 458,278.8 464.5,278.8 L652.8,278.8 C659.5,278.8 663,274 663.6,266.4 L664.3,244.2 C664.7,242 664.8,240 664.6,238 L653.5,196 C651,191.5 643,188 629.1,187.65 Z"/>
<path d="M482,188.9 H629.5"/>
<path d="M481.4,201.6 L473.4,230 L472.8,249.4 M480.3,211 L475.6,229.4 L475.2,251.2"/>
<path d="M626,188.2 C631,189 633.5,190.5 634.6,193.5 L642.9,229.4 L642.4,251.6 M629,187.9 C633,188.6 635.3,190 636.3,193 L644.3,230 L644.1,248.8" stroke-width="1.3"/>
<path d="M475.9,230.4 H642.9 M475.4,246.7 H642.6"/>
<path d="M478.95,230.1 C466,230 454.5,233.5 452.7,240.5 M452.9,243.6 C456,247 464,249.3 474.6,249.6 M452.9,245.4 C456,249 464,251.2 475,251.5"/>
<path d="M644.1,230.4 C655,230.4 663,234 664.5,240.5 M664.3,243.6 C661,247 653.8,249.3 642.9,249.8 M664.3,245.4 C661,249 653.8,251.3 642.4,251.6"/>
<path d="M469.1,251.4 L473.1,274.4 H644.5 L647.8,251.4"/>
<rect x="508.2" y="248.9" width="28.8" height="21" rx="1.2"/>
<path d="M511.4,252.2 H533.6 V257.6 H534.8 V262.2 H532.6 V264.4 H530.4 V266.4 H527.2 V268.3 H517.8 V266.4 H514.6 V264.4 H512.4 V262.2 H510.2 V257.6 H511.4 Z"/>
<rect x="556.5" y="256.5" width="28.7" height="14.2" rx="2"/>
<rect x="560.9" y="258" width="20.3" height="4.5" rx="1"/>
<circle cx="597.3" cy="262.7" r="2.1"/>
<path d="M616.3,262.5 H630.7 L631.6,264 L629.4,269.1 H617.9 L615.5,264 Z"/>
<path d="M522.5,282.5 V261.6 M519.6,264.6 L522.5,261.4 L525.4,264.6"/>
<path d="M625.7,283.7 L623.5,265.2 M621,268.4 L623.5,265 L626.6,267.8"/>
<path class="lw" d="M486.7,119.8 C486.7,116.8 491.5,116.8 491.5,119.8 C492.5,150 495.5,180 497.8,204.7 C498.8,216 499.5,229 499.6,254 L499.2,267 C498.5,272 493,273.8 489,273.8 C485,273.8 479.8,272 479.1,267 L478.6,254 C478.7,229 479.4,216 480.2,204.7 C482.5,180 485.7,150 486.7,119.8 Z"/>
<path d="M478.9,259 C480.5,262 484.5,263.4 489,263.4 C493.5,263.4 497.7,262 499.4,259"/>
<path class="lw" d="M512.4,284 Q512.4,282.5 513.9,282.5 H531.2 Q532.7,282.5 532.7,284 V300.2 L526.3,313 V315 H518 V313 L512.4,300.2 Z"/>
<path d="M513.6,300.4 L519,311.5 H525.5 L531.5,300.4 M519,311.5 V314.8 M525.5,311.5 V314.8"/>
<rect x="515" y="283.1" width="14.8" height="7.2"/>
<path d="M516.6,283.1 L516.6,290.3 M518.5,283.1 L518.5,290.3 M520.5,283.1 L520.5,290.3 M522.4,283.1 L522.4,290.3 M524.3,283.1 L524.3,290.3 M526.3,283.1 L526.3,290.3 M528.2,283.1 L528.2,290.3" stroke-width="1.2"/>
<path class="lw" d="M620.4,288.4 H628.5 V292.1 H620.4 Z"/>
<path class="lw" d="M619.7,292.1 H629.2 L634.4,298 L632.2,303.2 L629.6,303.4 L629,299.8 H626.4 L626.2,303 L623.3,302.6 L620.2,299.5 Z"/>
<path d="M620.6,294.5 H630.5"/>
<text class="bk" font-size="10.6" stroke-width=".55" x="533.1" y="171.1" textLength="54.2" lengthAdjust="spacingAndGlyphs">GATEWAY</text>
<g stroke="#6d6d6d">
<rect x="758.2" y="166.8" width="74.2" height="110.6" rx="2.2" fill="#fff"/>
<rect x="761.4" y="170.2" width="67.6" height="103.7" rx=".5"/>
<circle cx="794.8" cy="176.7" r="2.6"/><path d="M793,178.5 L796.6,174.9"/>
<circle cx="794.8" cy="267.9" r="2.6"/><path d="M793,266.1 L796.6,269.7"/>
<rect x="778.2" y="185" width="33.8" height="74.5" rx="2.6"/>
<rect x="788" y="233" width="2.4" height="8.8" fill="#6d6d6d" stroke="none"/><rect x="800.2" y="233" width="2.4" height="8.8" fill="#6d6d6d" stroke="none"/>
<path d="M792.1,251.3 V248.4 A3.05,3.05 0 0 1 798.2,248.4 V251.3 Z" fill="#6d6d6d" stroke="none"/>
</g>
<path class="lw" d="M775,194.6 C782,192 789,191 795,191 C801,191 808,192 815.2,194.6 Q816.6,195 816.6,196.8 V216.4 Q816.6,218 815.2,218.6 C808,221.2 801,222.2 795,222.2 C789,222.2 782,221.2 775,218.6 Q773.6,218 773.6,216.4 V196.8 Q773.6,195 775,194.6 Z"/>
<path d="M774.5,194.8 H815.8 M774.5,218.4 H815.8"/>
<rect x="795.3" y="199.3" width="9" height="2.8" fill="#161616" stroke="none"/><rect x="795.3" y="211.3" width="9" height="2.8" fill="#161616" stroke="none"/>
<path d="M785.6,203.5 H788.5 A3,3 0 0 1 788.5,209.5 H785.6 Z" fill="#161616" stroke="none"/>
<rect class="lw" x="710" y="195.6" width="35.6" height="21.8" rx="1.8"/>
<path class="lw" d="M745.6,199.4 H753.9 V201.7 H745.6 M745.6,211.4 H753.9 V213.8 H745.6"/>
<path class="lw" d="M710,202.6 H700.5 L697.6,203.9 V208.1 L700.5,209.4 H710"/>
<path d="M749.4,206.5 H770.4 M767.3,203.5 L770.6,206.5 L767.3,209.5"/>
<path class="lw" d="M847.9,194.1 H869.4 Q870.9,194.1 870.9,195.6 L869.8,215.6 L866.1,244 Q866,245.2 864.8,245.2 H849.1 Q847.9,245.2 847.9,244 V218.6 L844.1,217.9 V195.9 Z"/>
<path d="M847.9,194.3 V218.6"/>
<path class="lw" d="M844.1,199.4 H836.5 V201.7 H844.1 M844.1,211.4 H836.5 V213.8 H844.1"/>
<path d="M841.8,206.5 H820 M823.3,203.5 L819.8,206.5 L823.3,209.5"/>
<path class="lw" d="M851.9,245.2 H861.5 L860.6,248.2 H852.8 Z M852.8,248.2 H860.6 L859.8,251.2 H853.6 Z M853.6,251.2 H859.8 L859,255.4 H854.6 Z"/>
<path class="lw" d="M924.3,200 A8.6,8.6 0 0 1 941.5,200 V309.4 L938.2,320.5 L938.2,324 H928.3 V318.5 L924.3,310.9 Z"/>
<path d="M928.8,318 C929.5,308 931.5,300 934.5,295 C937,300 938.2,308 938.3,316"/>
<path class="lw" d="M1013.1,203 A9.2,9.2 0 0 1 1031.5,203 V310.4 L1027.5,319.5 L1028.3,330.6 L1028.8,344.7 C1027.5,346.8 1023.5,346.8 1021.7,345.3 L1019.7,335.4 L1013.6,336.4 L1012,330 L1017.4,331 L1017.7,320.5 L1013.1,313.4 Z"/>
<path d="M1017.9,319.5 C1018.8,310 1020.8,303 1023.7,298.1 C1026.3,303 1027.4,310 1027.5,317.5 M1017.5,331.4 C1020,332.8 1025.5,332.6 1028.3,331"/>
<path class="lw" d="M816.2,377.4 L816.2,370.7 C816.6,366 817.4,362 818.8,358.9 C820.8,354 824,350 827.7,347.1 C831,344 835,341.5 839.5,339.8 C843,338.2 846.5,337.2 850.5,335.1 L906.5,315.9 L937,319.4 L957.3,319.9 L990.5,323.6 C998,325.5 1004,328.5 1008.9,332.4 C1013.5,336 1016.8,340 1019.2,344.2 C1022,349 1023.6,354 1024.4,358.9 C1025,362 1025.2,365 1025.1,367.8 L972.8,392.8 L968.8,394 Z"/>
<path d="M816.2,377.4 C816.2,376.3 815.8,373.8 816.2,370.7 C816.6,367.6 816.9,362.8 818.8,358.9 C820.7,355.0 824.2,350.3 827.7,347.1 C831.2,343.9 835.8,341.5 839.5,339.8 C843.2,338.1 845.4,337.2 849.8,336.8 C854.2,336.4 860.4,336.9 866.0,337.3 C871.6,337.7 875.9,338.1 883.7,339.0 C891.6,339.9 904.5,341.3 913.1,342.7 C921.7,344.1 929.1,345.1 935.2,347.1 C941.4,349.1 945.6,351.3 950.0,354.5 C954.4,357.7 958.6,362.1 961.8,366.3 C965.0,370.5 967.3,375.2 969.1,379.6 C970.9,384.0 972.2,390.6 972.8,392.8"/>
<path d="M819.1,378.0 C819.1,376.8 818.7,373.6 819.1,370.7 C819.5,367.8 820.0,363.9 821.8,360.4 C823.6,356.8 826.7,352.5 829.9,349.4 C833.1,346.3 837.3,343.7 840.9,342.0 C844.5,340.3 847.1,339.5 851.3,339.1 C855.5,338.7 860.6,339.2 866.0,339.6 C871.4,340.0 875.9,340.4 883.7,341.3 C891.6,342.2 904.8,343.5 913.1,344.9 C921.5,346.2 928.0,347.4 933.8,349.4 C939.6,351.4 943.6,353.6 947.8,356.7 C952.0,359.8 955.9,363.9 958.8,367.8 C961.7,371.7 963.7,376.0 965.4,380.3 C967.1,384.6 968.2,391.4 968.8,393.6"/>
<clipPath id="fc1"><path d="M850.4,333.9 L906.5,316 L936.8,319.5 L881.2,337.6 Z"/></clipPath>
<clipPath id="fc2"><path d="M904.3,337.6 L957.3,319.9 L990.5,323.6 L938,341.4 Z"/></clipPath>
<path d="M850.4,333.9 L906.5,316 L936.8,319.5 L881.2,337.6 Z" fill="#8d8d8d" stroke="none"/>
<path clip-path="url(#fc1)" d="M802.2,310.0 L838.2,342.4 M805.4,310.0 L841.4,342.4 M808.5,310.0 L844.5,342.4 M811.6,310.0 L847.6,342.4 M814.8,310.0 L850.8,342.4 M818.0,310.0 L854.0,342.4 M821.1,310.0 L857.1,342.4 M824.2,310.0 L860.2,342.4 M827.4,310.0 L863.4,342.4 M830.5,310.0 L866.5,342.4 M833.7,310.0 L869.7,342.4 M836.9,310.0 L872.9,342.4 M840.0,310.0 L876.0,342.4 M843.1,310.0 L879.1,342.4 M846.3,310.0 L882.3,342.4 M849.5,310.0 L885.5,342.4 M852.6,310.0 L888.6,342.4 M855.8,310.0 L891.8,342.4 M858.9,310.0 L894.9,342.4 M862.0,310.0 L898.0,342.4 M865.2,310.0 L901.2,342.4 M868.4,310.0 L904.4,342.4 M871.5,310.0 L907.5,342.4 M874.6,310.0 L910.6,342.4 M877.8,310.0 L913.8,342.4 M881.0,310.0 L917.0,342.4 M884.1,310.0 L920.1,342.4 M887.2,310.0 L923.2,342.4 M890.4,310.0 L926.4,342.4 M893.5,310.0 L929.5,342.4 M896.7,310.0 L932.7,342.4 M899.9,310.0 L935.9,342.4 M903.0,310.0 L939.0,342.4 M906.1,310.0 L942.1,342.4 M909.3,310.0 L945.3,342.4 M912.5,310.0 L948.5,342.4 M915.6,310.0 L951.6,342.4 M918.8,310.0 L954.8,342.4 M921.9,310.0 L957.9,342.4 M925.0,310.0 L961.0,342.4 M928.2,310.0 L964.2,342.4 M931.4,310.0 L967.4,342.4 M934.5,310.0 L970.5,342.4 M937.6,310.0 L973.6,342.4 M940.8,310.0 L976.8,342.4 M944.0,310.0 L980.0,342.4 M947.1,310.0 L983.1,342.4 M950.2,310.0 L986.2,342.4 M953.4,310.0 L989.4,342.4 M956.5,310.0 L992.5,342.4 M959.7,310.0 L995.7,342.4 M962.9,310.0 L998.9,342.4" stroke="#2e2e2e" stroke-width="1.45"/>
<path d="M850.4,333.9 L906.5,316 L936.8,319.5" stroke-width=".9"/>
<path d="M904.3,337.6 L957.3,319.9 L990.5,323.6 L938,341.4 Z" fill="#f0f0f0" stroke="none"/>
<g clip-path="url(#fc2)">
<path d="M904.3,337.6 L957.3,319.9 M908.0,338.0 L961.0,320.3 M911.8,338.4 L964.7,320.7 M915.5,338.9 L968.4,321.1 M919.3,339.3 L972.1,321.5 M923.0,339.7 L975.7,322.0 M926.8,340.1 L979.4,322.4 M930.5,340.6 L983.1,322.8 M934.3,341.0 L986.8,323.2 M938.0,341.4 L990.5,323.6" stroke-width=".7" stroke="#3a3a3a"/>
<path d="M880.0,312.0 L916.0,344.4 M883.1,312.0 L919.1,344.4 M886.2,312.0 L922.2,344.4 M889.3,312.0 L925.3,344.4 M892.4,312.0 L928.4,344.4 M895.5,312.0 L931.5,344.4 M898.6,312.0 L934.6,344.4 M901.7,312.0 L937.7,344.4 M904.8,312.0 L940.8,344.4 M907.9,312.0 L943.9,344.4 M911.0,312.0 L947.0,344.4 M914.1,312.0 L950.1,344.4 M917.2,312.0 L953.2,344.4 M920.3,312.0 L956.3,344.4 M923.4,312.0 L959.4,344.4 M926.5,312.0 L962.5,344.4 M929.6,312.0 L965.6,344.4 M932.7,312.0 L968.7,344.4 M935.8,312.0 L971.8,344.4 M938.9,312.0 L974.9,344.4 M942.0,312.0 L978.0,344.4 M945.1,312.0 L981.1,344.4 M948.2,312.0 L984.2,344.4 M951.3,312.0 L987.3,344.4 M954.4,312.0 L990.4,344.4 M957.5,312.0 L993.5,344.4 M960.6,312.0 L996.6,344.4 M963.7,312.0 L999.7,344.4 M966.8,312.0 L1002.8,344.4 M969.9,312.0 L1005.9,344.4 M973.0,312.0 L1009.0,344.4 M976.1,312.0 L1012.1,344.4 M979.2,312.0 L1015.2,344.4 M982.3,312.0 L1018.3,344.4 M985.4,312.0 L1021.4,344.4 M988.5,312.0 L1024.5,344.4 M991.6,312.0 L1027.6,344.4 M994.7,312.0 L1030.7,344.4 M997.8,312.0 L1033.8,344.4 M1000.9,312.0 L1036.9,344.4" stroke="#555" stroke-width=".6"/>
</g>
<path d="M904.3,337.6 L957.3,319.9 L990.5,323.6 L938,341.4" stroke-width=".9"/>
<path d="M850.6,336.7 V333.9 H854.9 V337.2 M856.7,337.4 V334.6 H861.0 V337.9 M862.8,338.2 V335.4 H867.1 V338.7 M868.9,338.9 V336.1 H873.2 V339.4 M875.0,339.7 V336.9 H879.3 V340.2 M904.6,340.6 V337.6 H909.2 V341.1 M911.3,341.4 V338.4 H915.9 V341.9 M918.0,342.1 V339.1 H922.6 V342.6 M924.7,342.9 V339.9 H929.3 V343.4 M931.4,343.6 V340.6 H936.0 V344.1" stroke-width="1" fill="#fff"/>
<path d="M881.2,337.6 L936.8,319.5 M884.6,338.6 L939.8,320.6"/>
<path d="M983.3,348.0 C983.5,347.0 984.5,345.2 985.5,344.6 C986.5,344.0 987.9,343.6 989.5,344.5 C991.1,345.4 993.2,347.6 995.0,350.0 C996.8,352.4 998.8,356.2 1000.2,359.0 C1001.6,361.8 1002.7,364.6 1003.5,367.0 C1004.3,369.4 1005.8,371.4 1004.8,373.2 C1003.8,375.0 998.8,378.0 997.3,377.6 C995.8,377.2 996.5,373.5 995.8,371.0 C995.0,368.5 994.0,365.2 992.8,362.5 C991.5,359.8 989.7,356.5 988.3,354.5 C986.9,352.5 985.3,351.6 984.5,350.5 C983.7,349.4 983.1,349.0 983.3,348.0 Z"/>
<path d="M996.2,374.2 L1004.6,370.8"/>
<circle cx="829.9" cy="356.7" r="6.3"/><circle cx="830.6" cy="356.5" r="4.9"/>
<rect x="842.4" y="356.7" width="3" height="5.9" rx="1.4"/><rect x="851.7" y="357.2" width="3" height="5.9" rx="1.4"/><rect x="861.1" y="358.2" width="3.3" height="5.9" rx="1.5"/>
<rect x="869.6" y="361.2" width="2.7" height="3.6" rx=".5"/><rect x="875.3" y="360.2" width="3" height="5.4" rx=".5"/><rect x="881" y="359" width="3" height="6.9" rx=".5"/><rect x="886.9" y="357.6" width="3" height="9" rx=".5"/>
<path d="M893.2,347.4 H905 V373.7 H893.2 Z" stroke-width="1.2"/><path d="M898,349.6 H904.2 V370.6 H898 Z M902.6,351 V369"/>
<path d="M908,351.3 H936.7 V377.4 H908 Z" stroke-width="1.3"/>
<path d="M910.6,354 H914.4 L916.2,356.6 H920 V354.8 H925.4 V356.6 H929.4 L931.2,354 H934.6 V358.6 H932.6 L932.8,370.4 L930,373.6 H914.4 L911.8,370.4 V366 H910.4 V361.4 H911.8 V358.6 H910.6 Z" stroke-width="1.1"/>
<ellipse cx="912.7" cy="355.9" rx="1.9" ry="1.2" transform="rotate(8 912.7 355.9)"/><ellipse cx="931.8" cy="357.4" rx="1.9" ry="1.2" transform="rotate(8 931.8 357.4)"/>
<path d="M940.8,356.7 H948.5 V363.4 H940.8 Z" stroke="#777"/>
<path d="M939.1,363.8 H951.2 V377.9 H939.1 Z" stroke-width="1.7"/><path d="M945.2,364 V377.6 M939.5,370.6 H951" stroke="#888" stroke-width=".9"/>
<path d="M910.2,388.4 L921.2,366.3 M918.2,368.4 L921.4,366 L921.9,370"/>
<path d="M936.7,394.3 L945.5,375.1 M942.6,377.2 L945.7,374.8 L946.3,378.8"/>
<path class="lw" d="M897.7,390.1 L915.5,391.9 L914.7,400.4 L906.5,412.7 L894.2,420.4 L886.5,418.4 L886.8,413.8 L887.1,403.8 Z"/>
<path d="M887.1,403.8 L906.1,405.4 L915.5,391.9 M906.1,405.4 L906.5,412.7 M906.1,405.4 L894.6,415.4 L886.8,413.8 M894.6,415.4 L894.2,420.4"/>
<path d="M898.8,391.1 L913.1,392.5 L907.7,398.8 L895,398.1 Z" fill="#fff"/>
<path d="M898.8,391.1 L895.0,398.1 M900.8,391.3 L896.8,398.2 M902.9,391.5 L898.6,398.3 M904.9,391.7 L900.4,398.4 M907.0,391.9 L902.3,398.5 M909.0,392.1 L904.1,398.6 M911.1,392.3 L905.9,398.7 M913.1,392.5 L907.7,398.8" stroke-width=".7"/>
<path class="lw" d="M931.5,395 L941.5,395.9 L941.1,401.5 L936.1,413.4 L922.7,412.3 L922.3,404.6 L928,398.3 Z"/>
<path d="M928.8,398.1 L939.6,398.8 L941.5,395.9 M922.3,404.6 L936.5,405.4 L940.6,399.4 M936.5,405.4 L936.1,413.4 M939.6,398.8 L939.4,401"/>
<path d="M924.6,410.2 C925.5,406.6 930,405.6 933.6,408 M925.6,408.2 C927.6,406.2 931.4,406.4 933.4,409.6" stroke-width=".8"/>
<ellipse class="lw" cx="927.3" cy="414" rx="5.4" ry="5.8" transform="rotate(25 927.3 414)"/><ellipse cx="926.9" cy="415.2" rx="2.9" ry="3.3" transform="rotate(25 926.9 415.2)"/>
<text class="bk" font-size="9.8" stroke-width=".5" x="955" y="286.2" textLength="46.6" lengthAdjust="spacingAndGlyphs">ROUTER</text>
<g stroke="#333" stroke-width=".95" fill="#fff"><circle cx="710.6" cy="407.4" r="21.5"/><circle cx="964" cy="417.3" r="13.9"/><circle cx="644.6" cy="464.9" r="14"/><circle cx="667.6" cy="314" r="14"/></g>
<use href="#d2" transform="translate(136,349.05)" fill="#161616" stroke="none"/>
<g class="bk" font-size="20" stroke-width="1.5" text-anchor="middle"><text x="964" y="424.2" textLength="11.6" lengthAdjust="spacingAndGlyphs">a</text><text x="644.6" y="473.2" textLength="13.2" lengthAdjust="spacingAndGlyphs">b</text><text x="667.3" y="321.2" textLength="11" lengthAdjust="spacingAndGlyphs">c</text></g>
</g>
<!--ENDILLUS2-->
<!--ILLUS3-->
<g id="illus3" fill="none" stroke="#5e5e5e" stroke-width="1.05" stroke-linecap="round" stroke-linejoin="round">
<path fill="#fff" d="M1216.6,229.7 L1205.1,148 C1204.2,140.5 1208.5,137.2 1213.6,137.2 C1218.8,137.2 1222.8,140.5 1223.7,146.8 L1234.5,229.7"/>
<path fill="#fff" d="M1346.9,229.7 L1357.5,147.5 C1358.4,140.6 1362,137.2 1367.2,137.2 C1372.6,137.2 1377.2,140.8 1376.4,148 L1365.2,229.7"/>
<path fill="#fff" d="M1170.9,350.4 L1155.1,416.5 C1154.3,420.5 1155.5,422.4 1159,422.4 L1410.5,422.4 C1414,422.4 1415,420.8 1414.6,418.3 L1413.6,405.7 L1398.4,350 Z"/>
<path d="M1155.1,416.5 C1156.0,413.2 1157.8,403.3 1160.5,396.7 C1163.2,390.1 1166.5,383.0 1171.3,377.0 C1176.1,371.0 1182.7,364.9 1189.3,360.8 C1195.9,356.8 1202.7,354.4 1210.8,352.7 C1218.9,351.0 1225.3,351.3 1237.7,350.9 C1250.1,350.5 1267.7,349.9 1285.0,350.2 C1302.3,350.5 1327.8,351.2 1341.8,352.7 C1355.8,354.2 1360.4,355.6 1368.8,359.0 C1377.2,362.4 1385.8,368.0 1392.1,373.4 C1398.4,378.8 1402.9,385.3 1406.5,391.3 C1410.1,397.3 1412.4,406.3 1413.6,409.3"/>
<path d="M1156.5,411.0 C1156.9,409.8 1157.1,408.1 1158.7,403.9 C1160.3,399.7 1162.9,391.3 1165.9,385.9 C1168.9,380.5 1172.2,375.8 1176.7,371.6 C1181.2,367.4 1186.5,363.6 1192.8,360.8 C1199.1,358.1 1206.9,356.3 1214.4,355.1 C1221.9,353.9 1225.9,354.0 1237.7,353.6 C1249.5,353.2 1267.7,352.5 1285.0,352.8 C1302.3,353.1 1328.1,353.9 1341.8,355.4 C1355.5,356.9 1359.2,358.4 1367.0,361.7 C1374.8,365.0 1382.5,370.3 1388.5,375.2 C1394.5,380.1 1399.0,386.2 1402.9,391.3 C1406.8,396.4 1410.4,403.3 1411.9,405.7"/>
<circle cx="1188.4" cy="385" r="10.2"/><circle cx="1188.6" cy="385.2" r="8.3"/><circle cx="1187.6" cy="385.3" r=".9" fill="#636363"/>
<rect x="1205.8" y="381.5" width="5.9" height="9.8" rx="2.9"/>
<rect x="1223.0" y="381.5" width="5.9" height="9.8" rx="2.9"/>
<rect x="1239.9" y="381.5" width="5.9" height="9.8" rx="2.9"/>
<path d="M1206.9,375.6 A2.6,2.6 0 1 0 1210.5,375.6 M1208.7,374.4 V377.4" stroke-width=".7"/>
<path d="M1223.2,374.9 Q1225.9,373.4 1228.6,374.9 M1224.3,376.6 Q1225.9,375.8 1227.5,376.6 M1225.9,378 V379" stroke-width=".7"/>
<path d="M1240.7,374.5 H1245.1 L1242.9,377.2 Z M1242.9,377.2 V379.6" stroke-width=".7"/>
<path d="M1254.6,372.6 H1257.8 L1256.2,374.6 V377.4 M1258.6,377.4 V376.4 M1260.2,377.4 V375.2 M1261.8,377.4 V373.8 M1263.2,377.4 V372.6" stroke-width=".75"/>
<path d="M1254.8,380.6 H1263.4" stroke-width="1.1" stroke-dasharray="1.5 .7" stroke-linecap="butt"/>
<path d="M1259.3,385 V391.3 H1255.6 Q1253.9,391.3 1253.9,389.6 V388 Q1253.9,386.2 1255.6,385.8 Z"/>
<path d="M1265,383.4 L1269.5,382.6 V391.3 H1265 Z M1274.4,380.8 L1278.8,380.1 V391.3 H1274.4 Z"/>
<rect x="1296.6" y="363" width="15.1" height="35.5" rx="1.6"/><rect x="1298.4" y="365.8" width="4.8" height="30" rx=".4"/>
<rect x="1318.1" y="363" width="38.1" height="35.5" rx="2"/>
<path d="M1322.6,394.9 V384.4 H1320.6 V375 H1322.6 V371.6 H1328.6 V369 H1332.6 V364.6 H1342.6 V369 H1346.6 V371.6 H1351.6 V375 H1353.6 V384.4 H1351.6 V394.9 Z"/>
<path d="M1298.7,406.6 H1309 M1307.2,405.2 L1309.5,406.6 L1307.2,408 M1302.5,406.6 L1304.5,404.6 H1306 M1301.5,406.6 L1303.5,408.6 H1305" stroke-width=".6"/>
<path fill="#fff" d="M1179.4,230.3 C1168,232 1160.5,236 1157.8,241.3 L1142,296 C1141.5,299 1141.6,302 1142,305.1 L1145.3,337.5 C1146.5,346 1151,349.7 1160.5,349.7 L1398.6,349.7 C1408.5,349.7 1414,346 1416.3,333.9 L1417.4,305.1 C1417.8,302 1417.8,299 1417.4,296 L1403.8,244.9 C1401.5,237 1392,231.2 1370.6,230.1 Z"/>
<path d="M1200,232.4 H1372"/>
<path d="M1262,231.2 H1268 M1271,231.2 H1278 M1296,231.2 H1302 M1307,231.2 H1314" stroke-width=".6"/>
<path d="M1179.4,255.7 L1170.6,286 L1170.4,313.2 M1177,266.5 L1174,285.5 L1174,306.9"/>
<path d="M1367,230.6 C1373,231.5 1376,233.5 1377.7,237.7 L1386.6,282 L1388.2,314.1 M1370.6,230.4 C1376,231.3 1378.5,233 1379.9,236.8 L1389.3,283 L1389.6,289"/>
<path d="M1174,286.3 H1388.5 M1174,306.9 H1388"/>
<path d="M1173.1,285.5 C1158,285.6 1144.5,290 1142,298.5 M1142.4,303 C1147,308 1158,311.2 1171.3,311.6 M1142.4,305.4 C1147,310.6 1158,313.9 1171.3,314.2"/>
<path d="M1388.5,286.3 C1402.9,286 1415.5,290.5 1417.3,298.5 M1417.2,303 C1413,308 1402,311.4 1388.5,312 M1417.2,305.4 C1413,310.6 1402,314 1388.5,314.5"/>
<path d="M1165,313.4 L1168.6,346.6 H1392.1 L1395.7,314.1"/>
<rect x="1213.5" y="310.5" width="38.6" height="27.3" rx="2"/>
<path d="M1218,314.5 H1247.6 V320.4 H1249.2 V326.6 H1246.4 V329.6 H1243.4 V332.2 H1239 V334.8 H1226.6 V332.2 H1222.2 V329.6 H1219.2 V326.6 H1216.4 V320.4 H1218 Z"/>
<rect x="1277.2" y="320.4" width="37.3" height="18" rx="2.2"/><rect x="1283.5" y="322.7" width="25.1" height="5.4" rx="1"/>
<circle cx="1330.2" cy="328.5" r="2.6"/>
<path d="M1356,327.6 H1372.6 Q1374.2,327.6 1374.2,329.2 V331 L1372.2,332.4 V335.8 Q1372.2,337.5 1370.5,337.5 H1358 Q1356.4,337.5 1356.4,335.8 V332.4 L1354.4,331 V329.2 Q1354.4,327.6 1356,327.6 Z"/>
<path fill="#fff" d="M1186,158.4 C1186,152.8 1192.8,152.8 1192.8,158.4 C1193,170 1193.1,178 1193.2,183.9 C1194,196 1195,205 1196.4,216.2 C1198,228 1199.5,236 1200.9,244.9 C1202,252 1202.5,258 1202.6,266.5 L1202.3,336 C1201,341 1195,342.6 1189.5,342.6 C1184,342.6 1178.3,341 1177,336 L1177,262 C1178.5,248 1180.5,232 1182.1,216.2 C1183.6,204 1185,196 1185.7,183.9 C1185.9,176 1186,168 1186,158.4 Z"/>
<path d="M1186.1,159.8 H1192.7 M1177,323.2 C1179,327 1184,328.8 1189.6,328.8 C1195.2,328.8 1200.2,327 1202.3,323.2"/>
<g stroke="#161616" stroke-width="1.4" stroke-linejoin="miter">
<rect x="1282.9" y="227.9" width="10.1" height="196.3" fill="#fff"/>
<rect x="1281.8" y="249.6" width="12.4" height="11.8" fill="#fff" stroke-width="1.2"/>
<path d="M1284.2,249.6 V248 L1285.6,246.6 H1290.4 L1291.8,248 V249.6 M1282,253.4 H1294 M1282,255.6 H1294" stroke-width="1"/>
</g>
<circle cx="1285.9" cy="184.2" r="21.5" fill="#fff" stroke="#333" stroke-width=".95"/>
<use href="#d3" transform="translate(211.9,126)" fill="#161616" stroke="none"/>
</g>
<!--ENDILLUS3-->
<g id="bottom">
<!-- dividers -->
<rect x="340.2" y="660.3" width="2.6" height="176.5" fill="#7d7d7b"/>
<rect x="1012.7" y="660.3" width="2.6" height="176.5" fill="#7d7d7b"/>
<!-- labels -->
<text class="bk" font-size="20" stroke-width="1.3" x="293.6" y="629.5" textLength="95.2" lengthAdjust="spacingAndGlyphs">ROUTER</text>
<text class="bk" font-size="20" stroke-width="1.3" x="956.2" y="629.7" textLength="115" lengthAdjust="spacingAndGlyphs">GATEWAY</text>
<text class="bk" font-size="25.8" stroke-width="1.35" x="118.4" y="682.6" textLength="110.6" lengthAdjust="spacingAndGlyphs">ONLINE</text>
<text class="bk" font-size="25.8" stroke-width="1.35" x="447.4" y="682.6" textLength="124.4" lengthAdjust="spacingAndGlyphs">OFFLINE</text>
<text class="bk" font-size="25.8" stroke-width="1.35" x="791.2" y="682.6" textLength="110.6" lengthAdjust="spacingAndGlyphs">ONLINE</text>
<text class="bk" font-size="25.8" stroke-width="1.35" x="1119.8" y="682.6" textLength="124.8" lengthAdjust="spacingAndGlyphs">OFFLINE</text>
<text class="bd" x="92" y="827.8" textLength="163.4" lengthAdjust="spacingAndGlyphs">All lights on</text>
<text class="bd" x="415.6" y="827.8" textLength="186.6" lengthAdjust="spacingAndGlyphs">Flashing light</text>
<text class="bd" x="764.5" y="827.8" textLength="163.5" lengthAdjust="spacingAndGlyphs">All lights on</text>
<text class="bd" x="1071.6" y="827.8" textLength="219.4" lengthAdjust="spacingAndGlyphs">LoRa light is off</text>

<!-- router light icon set (online coords); reused with translate(336.4,0) -->
<defs>
<g id="ricons">
  <path class="g" stroke-width="2.3" stroke-linecap="round" d="M62.6,723 A7.75,7.75 0 1 0 71.8,723 M67.2,721.4 V728.8"/>
  <g class="g" stroke-width="2.2" stroke-linecap="round">
   <path d="M106.1,721.3 A17,17 0 0 1 125.1,721.3"/>
   <path d="M109.2,725.9 A11.5,11.5 0 0 1 122,725.9"/>
   <path d="M112,730.1 A6.4,6.4 0 0 1 119.2,730.1"/>
  </g>
  <circle cx="115.6" cy="735.4" r="2.3" fill="#898989"/>
  <path fill="#898989" d="M156.5,719.6 H170.9 L165.5,728.6 V736.7 H162 V728.6 Z M161.4,722.4 H166 L163.7,725.2 Z" fill-rule="evenodd"/>
  <path fill="#898989" d="M193,715.1 H205 L200.6,721.6 V729 H197.1 V721.6 Z M197.5,717.3 H200.5 L199,719 Z" fill-rule="evenodd"/>
  <rect x="202.8" y="725.4" width="2.9" height="3.6" fill="#898989"/>
  <rect x="207.2" y="722.3" width="2.9" height="6.7" fill="#898989"/>
  <rect x="211.5" y="719.2" width="2.8" height="9.8" fill="#898989"/>
  <rect x="216.1" y="716" width="2.9" height="13" fill="#898989"/>
  <text x="194.2" y="741.5" font-size="8.9" font-weight="bold" fill="#898989" stroke="#898989" stroke-width=".75" stroke-linejoin="round" textLength="29.6" lengthAdjust="spacing">SGNL</text>
</g>
<g id="gicons">
  <path class="g" stroke-width="3.7" stroke-linecap="round" d="M738.9,754.2 A12.45,12.45 0 1 0 753.5,754.2 M746.2,752.6 V764.2"/>
  <g class="g" stroke-width="1.3">
    <circle cx="808" cy="764.5" r="14.5"/>
    <ellipse cx="808" cy="764.5" rx="6.9" ry="14.5"/>
    <path d="M808,750 V779 M793.5,764.5 H822.5 M796,756.5 H820 M796,772.6 H820"/>
  </g>
  <g class="g" stroke-width="2.6" stroke-linecap="round">
   <path d="M855.66,759.36 A20,20 0 0 1 883.94,759.36"/>
   <path d="M860,763.7 A13.85,13.85 0 0 1 879.6,763.7"/>
   <path d="M864.4,768.1 A7.65,7.65 0 0 1 875.2,768.1"/>
  </g>
  <circle cx="869.8" cy="773.5" r="3.3" fill="#898989"/>
  <text x="907" y="771.8" font-size="20.2" font-weight="bold" fill="#898989" stroke="#898989" stroke-width=".5" textLength="49.4" lengthAdjust="spacingAndGlyphs">LoRa</text>
</g>
<rect id="pill" x="-6.2" y="741.8" width="12.4" height="26.2" rx="6.2" fill="#3ea845" stroke="#0b3a1c" stroke-width="1.7"/>
<rect id="led" x="0.6" y="717.5" width="30.8" height="10.4" rx="2.6" stroke-width="1.3"/>
<path id="arrow" fill="none" stroke="#161616" stroke-width="2.3" stroke-linejoin="miter" d="M0,798.5 V779 M-9.4,788.6 L0,779 L9.4,788.4"/>
</defs>

<use href="#ricons"/>
<use href="#ricons" transform="translate(336.4,0)"/>
<use href="#pill" x="67.2"/><use href="#pill" x="115.6"/><use href="#pill" x="164"/>
<use href="#pill" x="403.6"/><use href="#pill" x="452"/>
<rect x="494.1" y="741.8" width="12.4" height="26.2" rx="6.2" fill="#f0933b" stroke="#6b3510" stroke-width="1.2"/>
<path fill="none" stroke="#161616" stroke-width="2.3" stroke-linecap="butt" d="M482.9,754.8 H490.2 M510.3,754.8 H517.5 M485.3,747.5 L490.8,750.1 M514.8,747.5 L509.7,750.1 M485.3,762.3 L490.8,759.6 M514.8,762.3 L509.7,759.6"/>
<!-- online bars -->
<g fill="#4a90c0" stroke="#12437a" stroke-width="1.4" stroke-linejoin="round">
<path id="bar1" d="M209.4,751.6 V767.9 H199 Q195.1,767.9 195.1,764.4 V758.8 Q195.1,755 198.8,754.2 Z"/>
<path d="M225.4,747.2 L235.2,744.8 V767.9 H225.4 Z"/>
<path d="M250.8,740.9 L262.1,738.2 V767.9 H250.8 Z"/>
<path d="M276.6,734.3 L288.3,731.6 V767.9 H276.6 Z"/>
<use href="#bar1" transform="translate(336.4,0)"/>
</g>
<g fill="#161616">
<path d="M561.2,747 L572.2,744.2 V768.6 H561.2 Z"/>
<path d="M586.7,740.3 L599.1,737.4 V768.6 H586.7 Z"/>
<path d="M612.5,734.2 L625.3,731.1 V768.6 H612.5 Z"/>
</g>
<use href="#arrow" x="500.3"/>

<use href="#gicons"/>
<use href="#gicons" transform="translate(336.2,0)"/>
<use href="#led" x="730" fill="#e8474e" stroke="#7c1a20"/>
<use href="#led" x="792" fill="#c9d63b" stroke="#3f6a1e"/>
<use href="#led" x="854" fill="#c9d63b" stroke="#3f6a1e"/>
<use href="#led" x="915.8" fill="#c9d63b" stroke="#3f6a1e"/>
<use href="#led" x="1066.2" fill="#e8474e" stroke="#7c1a20"/>
<use href="#led" x="1128.2" fill="#e8474e" stroke="#7c1a20"/>
<use href="#led" x="1190.2" fill="#c9d63b" stroke="#3f6a1e"/>
<use href="#led" x="1252" fill="#161616" stroke="#161616"/>
<use href="#arrow" x="1268.3"/>
</g>
<!--ENDBOTTOM-->
<!--MINI-->
<g id="miniR" class="ln" transform="translate(2.15,453.1) scale(0.3675)">
<path class="lw" d="M924.3,200 A8.6,8.6 0 0 1 941.5,200 V309.4 L938.2,320.5 L938.2,324 H928.3 V318.5 L924.3,310.9 Z"/>
<path d="M928.8,318 C929.5,308 931.5,300 934.5,295 C937,300 938.2,308 938.3,316"/>
<path class="lw" d="M1013.1,203 A9.2,9.2 0 0 1 1031.5,203 V310.4 L1027.5,319.5 L1028.3,330.6 L1028.8,344.7 C1027.5,346.8 1023.5,346.8 1021.7,345.3 L1019.7,335.4 L1013.6,336.4 L1012,330 L1017.4,331 L1017.7,320.5 L1013.1,313.4 Z"/>
<path d="M1017.9,319.5 C1018.8,310 1020.8,303 1023.7,298.1 C1026.3,303 1027.4,310 1027.5,317.5 M1017.5,331.4 C1020,332.8 1025.5,332.6 1028.3,331"/>
<path class="lw" d="M816.2,377.4 L816.2,370.7 C816.6,366 817.4,362 818.8,358.9 C820.8,354 824,350 827.7,347.1 C831,344 835,341.5 839.5,339.8 C843,338.2 846.5,337.2 850.5,335.1 L906.5,315.9 L937,319.4 L957.3,319.9 L990.5,323.6 C998,325.5 1004,328.5 1008.9,332.4 C1013.5,336 1016.8,340 1019.2,344.2 C1022,349 1023.6,354 1024.4,358.9 C1025,362 1025.2,365 1025.1,367.8 L972.8,392.8 L968.8,394 Z"/>
<path d="M816.2,377.4 C816.2,376.3 815.8,373.8 816.2,370.7 C816.6,367.6 816.9,362.8 818.8,358.9 C820.7,355.0 824.2,350.3 827.7,347.1 C831.2,343.9 835.8,341.5 839.5,339.8 C843.2,338.1 845.4,337.2 849.8,336.8 C854.2,336.4 860.4,336.9 866.0,337.3 C871.6,337.7 875.9,338.1 883.7,339.0 C891.6,339.9 904.5,341.3 913.1,342.7 C921.7,344.1 929.1,345.1 935.2,347.1 C941.4,349.1 945.6,351.3 950.0,354.5 C954.4,357.7 958.6,362.1 961.8,366.3 C965.0,370.5 967.3,375.2 969.1,379.6 C970.9,384.0 972.2,390.6 972.8,392.8"/>
<path d="M819.1,378.0 C819.1,376.8 818.7,373.6 819.1,370.7 C819.5,367.8 820.0,363.9 821.8,360.4 C823.6,356.8 826.7,352.5 829.9,349.4 C833.1,346.3 837.3,343.7 840.9,342.0 C844.5,340.3 847.1,339.5 851.3,339.1 C855.5,338.7 860.6,339.2 866.0,339.6 C871.4,340.0 875.9,340.4 883.7,341.3 C891.6,342.2 904.8,343.5 913.1,344.9 C921.5,346.2 928.0,347.4 933.8,349.4 C939.6,351.4 943.6,353.6 947.8,356.7 C952.0,359.8 955.9,363.9 958.8,367.8 C961.7,371.7 963.7,376.0 965.4,380.3 C967.1,384.6 968.2,391.4 968.8,393.6"/>
<clipPath id="mfc1"><path d="M850.4,333.9 L906.5,316 L936.8,319.5 L881.2,337.6 Z"/></clipPath>
<clipPath id="mfc2"><path d="M904.3,337.6 L957.3,319.9 L990.5,323.6 L938,341.4 Z"/></clipPath>
<path d="M850.4,333.9 L906.5,316 L936.8,319.5 L881.2,337.6 Z" fill="#8d8d8d" stroke="none"/>
<path clip-path="url(#mfc1)" d="M802.2,310.0 L838.2,342.4 M805.4,310.0 L841.4,342.4 M808.5,310.0 L844.5,342.4 M811.6,310.0 L847.6,342.4 M814.8,310.0 L850.8,342.4 M818.0,310.0 L854.0,342.4 M821.1,310.0 L857.1,342.4 M824.2,310.0 L860.2,342.4 M827.4,310.0 L863.4,342.4 M830.5,310.0 L866.5,342.4 M833.7,310.0 L869.7,342.4 M836.9,310.0 L872.9,342.4 M840.0,310.0 L876.0,342.4 M843.1,310.0 L879.1,342.4 M846.3,310.0 L882.3,342.4 M849.5,310.0 L885.5,342.4 M852.6,310.0 L888.6,342.4 M855.8,310.0 L891.8,342.4 M858.9,310.0 L894.9,342.4 M862.0,310.0 L898.0,342.4 M865.2,310.0 L901.2,342.4 M868.4,310.0 L904.4,342.4 M871.5,310.0 L907.5,342.4 M874.6,310.0 L910.6,342.4 M877.8,310.0 L913.8,342.4 M881.0,310.0 L917.0,342.4 M884.1,310.0 L920.1,342.4 M887.2,310.0 L923.2,342.4 M890.4,310.0 L926.4,342.4 M893.5,310.0 L929.5,342.4 M896.7,310.0 L932.7,342.4 M899.9,310.0 L935.9,342.4 M903.0,310.0 L939.0,342.4 M906.1,310.0 L942.1,342.4 M909.3,310.0 L945.3,342.4 M912.5,310.0 L948.5,342.4 M915.6,310.0 L951.6,342.4 M918.8,310.0 L954.8,342.4 M921.9,310.0 L957.9,342.4 M925.0,310.0 L961.0,342.4 M928.2,310.0 L964.2,342.4 M931.4,310.0 L967.4,342.4 M934.5,310.0 L970.5,342.4 M937.6,310.0 L973.6,342.4 M940.8,310.0 L976.8,342.4 M944.0,310.0 L980.0,342.4 M947.1,310.0 L983.1,342.4 M950.2,310.0 L986.2,342.4 M953.4,310.0 L989.4,342.4 M956.5,310.0 L992.5,342.4 M959.7,310.0 L995.7,342.4 M962.9,310.0 L998.9,342.4" stroke="#2e2e2e" stroke-width="1.45"/>
<path d="M850.4,333.9 L906.5,316 L936.8,319.5" stroke-width=".9"/>
<path d="M904.3,337.6 L957.3,319.9 L990.5,323.6 L938,341.4 Z" fill="#f0f0f0" stroke="none"/>
<g clip-path="url(#mfc2)">
<path d="M904.3,337.6 L957.3,319.9 M908.0,338.0 L961.0,320.3 M911.8,338.4 L964.7,320.7 M915.5,338.9 L968.4,321.1 M919.3,339.3 L972.1,321.5 M923.0,339.7 L975.7,322.0 M926.8,340.1 L979.4,322.4 M930.5,340.6 L983.1,322.8 M934.3,341.0 L986.8,323.2 M938.0,341.4 L990.5,323.6" stroke-width=".7" stroke="#3a3a3a"/>
<path d="M880.0,312.0 L916.0,344.4 M883.1,312.0 L919.1,344.4 M886.2,312.0 L922.2,344.4 M889.3,312.0 L925.3,344.4 M892.4,312.0 L928.4,344.4 M895.5,312.0 L931.5,344.4 M898.6,312.0 L934.6,344.4 M901.7,312.0 L937.7,344.4 M904.8,312.0 L940.8,344.4 M907.9,312.0 L943.9,344.4 M911.0,312.0 L947.0,344.4 M914.1,312.0 L950.1,344.4 M917.2,312.0 L953.2,344.4 M920.3,312.0 L956.3,344.4 M923.4,312.0 L959.4,344.4 M926.5,312.0 L962.5,344.4 M929.6,312.0 L965.6,344.4 M932.7,312.0 L968.7,344.4 M935.8,312.0 L971.8,344.4 M938.9,312.0 L974.9,344.4 M942.0,312.0 L978.0,344.4 M945.1,312.0 L981.1,344.4 M948.2,312.0 L984.2,344.4 M951.3,312.0 L987.3,344.4 M954.4,312.0 L990.4,344.4 M957.5,312.0 L993.5,344.4 M960.6,312.0 L996.6,344.4 M963.7,312.0 L999.7,344.4 M966.8,312.0 L1002.8,344.4 M969.9,312.0 L1005.9,344.4 M973.0,312.0 L1009.0,344.4 M976.1,312.0 L1012.1,344.4 M979.2,312.0 L1015.2,344.4 M982.3,312.0 L1018.3,344.4 M985.4,312.0 L1021.4,344.4 M988.5,312.0 L1024.5,344.4 M991.6,312.0 L1027.6,344.4 M994.7,312.0 L1030.7,344.4 M997.8,312.0 L1033.8,344.4 M1000.9,312.0 L1036.9,344.4" stroke="#555" stroke-width=".6"/>
</g>
<path d="M904.3,337.6 L957.3,319.9 L990.5,323.6 L938,341.4" stroke-width=".9"/>
<path d="M850.6,336.7 V333.9 H854.9 V337.2 M856.7,337.4 V334.6 H861.0 V337.9 M862.8,338.2 V335.4 H867.1 V338.7 M868.9,338.9 V336.1 H873.2 V339.4 M875.0,339.7 V336.9 H879.3 V340.2 M904.6,340.6 V337.6 H909.2 V341.1 M911.3,341.4 V338.4 H915.9 V341.9 M918.0,342.1 V339.1 H922.6 V342.6 M924.7,342.9 V339.9 H929.3 V343.4 M931.4,343.6 V340.6 H936.0 V344.1" stroke-width="1" fill="#fff"/>
<path d="M881.2,337.6 L936.8,319.5 M884.6,338.6 L939.8,320.6"/>
<path d="M983.3,348.0 C983.5,347.0 984.5,345.2 985.5,344.6 C986.5,344.0 987.9,343.6 989.5,344.5 C991.1,345.4 993.2,347.6 995.0,350.0 C996.8,352.4 998.8,356.2 1000.2,359.0 C1001.6,361.8 1002.7,364.6 1003.5,367.0 C1004.3,369.4 1005.8,371.4 1004.8,373.2 C1003.8,375.0 998.8,378.0 997.3,377.6 C995.8,377.2 996.5,373.5 995.8,371.0 C995.0,368.5 994.0,365.2 992.8,362.5 C991.5,359.8 989.7,356.5 988.3,354.5 C986.9,352.5 985.3,351.6 984.5,350.5 C983.7,349.4 983.1,349.0 983.3,348.0 Z"/>
<path d="M996.2,374.2 L1004.6,370.8"/>
<circle cx="829.9" cy="356.7" r="6.3"/><circle cx="830.6" cy="356.5" r="4.9"/>
<rect x="842.4" y="356.7" width="3" height="5.9" rx="1.4"/><rect x="851.7" y="357.2" width="3" height="5.9" rx="1.4"/><rect x="861.1" y="358.2" width="3.3" height="5.9" rx="1.5"/>
<rect x="869.6" y="361.2" width="2.7" height="3.6" rx=".5"/><rect x="875.3" y="360.2" width="3" height="5.4" rx=".5"/><rect x="881" y="359" width="3" height="6.9" rx=".5"/><rect x="886.9" y="357.6" width="3" height="9" rx=".5"/>
<path d="M893.2,347.4 H905 V373.7 H893.2 Z" stroke-width="1.2"/><path d="M898,349.6 H904.2 V370.6 H898 Z M902.6,351 V369"/>
<path d="M908,351.3 H936.7 V377.4 H908 Z" stroke-width="1.3"/>
<path d="M910.6,354 H914.4 L916.2,356.6 H920 V354.8 H925.4 V356.6 H929.4 L931.2,354 H934.6 V358.6 H932.6 L932.8,370.4 L930,373.6 H914.4 L911.8,370.4 V366 H910.4 V361.4 H911.8 V358.6 H910.6 Z" stroke-width="1.1"/>
<ellipse cx="912.7" cy="355.9" rx="1.9" ry="1.2" transform="rotate(8 912.7 355.9)"/><ellipse cx="931.8" cy="357.4" rx="1.9" ry="1.2" transform="rotate(8 931.8 357.4)"/>
<path d="M940.8,356.7 H948.5 V363.4 H940.8 Z" stroke="#777"/>
<path d="M939.1,363.8 H951.2 V377.9 H939.1 Z" stroke-width="1.7"/><path d="M945.2,364 V377.6 M939.5,370.6 H951" stroke="#888" stroke-width=".9"/>
</g>
<g id="miniG" class="ln" stroke-width=".9">
<path class="lw" d="M974.9,572.3 L975.2,580.5 C975.4,583.5 976.6,584.5 979.1,585.7 L1024.1,605.2 C1027.1,608.0 1030.1,607.8 1032.8,604.8 L1051.0,580.4 L1052.0,571.7 Z"/>
<path class="lw" d="M979.6,574.6 C976.6,573.2 976.3,570.9 978.8,568.8 L996.4,554.1 C998.9,552.0 1002.6,551.4 1005.7,552.7 L1047.1,569.6 C1050.2,570.9 1050.7,573.3 1048.5,575.7 L1032.3,593.2 C1030.1,595.6 1026.6,596.3 1023.6,594.9 Z"/>
<path d="M975.2,575.9 L1024.2,597.4 C1027.1,600.4 1030.1,600.2 1033.0,596.8 L1051.6,575.1"/>
<path d="M988.4,571.4 C986.1,570.3 985.8,568.5 987.7,566.8 L1000.1,555.4 C1002.0,553.7 1004.8,553.2 1007.1,554.1 L1043.7,567.7 C1046.0,568.6 1046.4,570.4 1044.6,572.2 L1029.8,587.2 C1028.0,589.0 1025.3,589.5 1023.0,588.4 Z"/>
<path d="M987.2,566.3 C985.2,569.0 985.4,570.2 987.8,571.7 L1023.4,589.0 C1025.8,590.6 1027.8,590.5 1030.0,587.6 L1045.6,571.8" stroke-width="1.5" stroke="#333"/>
<path class="lw" d="M1051,514.4 Q1051.8,512.8 1052.6,514.4 L1053.2,566.5 L1050.4,568.8 L1046.2,565.6 L1049.2,560 Z"/>
<path d="M1049.2,560.2 L1053,562.6 M1048,563 L1052.4,566.2"/>
</g>
<!--ENDMINI-->
</svg>
</body></html>
